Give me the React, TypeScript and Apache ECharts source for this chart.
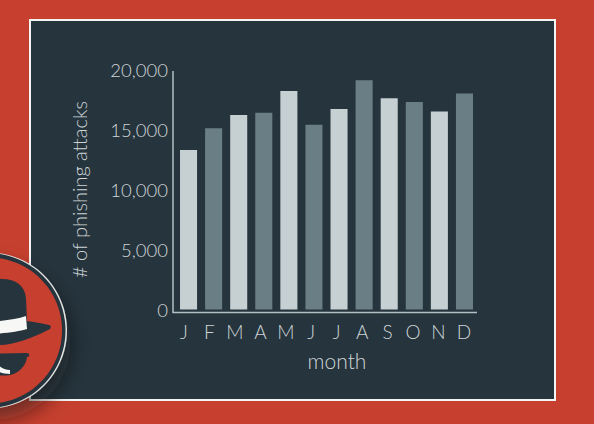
import React, { useEffect, useRef } from "react";
import * as echarts from "echarts";

const months = ["J", "F", "M", "A", "M", "J", "J", "A", "S", "O", "N", "D"];
const attacks = [13300, 15100, 16200, 16400, 18200, 15400, 16700, 19100, 17600, 17300, 16500, 18000];
const barColors = ["#c6d0d3", "#6a7f85"];
const FONT = "Lato";
const TEXT = "#ced5d7";
const DARK = "#26343d";
const RED = "#c7402f";

const reg = (name: string, d: string) =>
  echarts.graphic.registerShape(name, echarts.graphic.extendPath(d, {}) as any);

reg("hatCrown", "M-30 320 L-24 292 C-20 281 -8 278 2 279 C16 279 25 286 26 298 L27 321 C34 322 42 323 49 325 C52 326 51 329 48 330 C32 338 14 345 0 345 C-12 346 -24 342 -30 336 Z");
reg("hatBand", "M-30 322 C-10 322 12 321 26 316 L27 329 C14 333 -10 335 -30 334 Z");
reg("glasses", "M-30 354 L27 353 C30 353 30 357 27 357 C26 367 17 375 7 375.5 C-8 376 -24 372 -30 368 Z");
reg("smile", "M-2 364.5 C1 368 5 369.5 10 370 L10 374 C5 374 0 373 -2 371 Z");

export default function App() {
  const ref = useRef<HTMLDivElement>(null);
  useEffect(() => {
    const chart = echarts.init(ref.current!, undefined, { renderer: "svg" });
    chart.setOption({
      animation: false,
      backgroundColor: RED,
      grid: [
        { left: 176, right: 117, top: 69.5, bottom: 114.5 },
        { left: 171.3, right: 117.3, top: 69.5, bottom: 114.5 },
      ],
      xAxis: [
        {
          type: "category",
          gridIndex: 0,
          data: months,
          axisLine: { show: false },
          axisTick: { show: false },
          axisLabel: { show: false },
        },
        {
          type: "category",
          gridIndex: 1,
          data: months,
          name: "month",
          nameLocation: "middle",
          nameGap: 40,
          nameTextStyle: { color: TEXT, fontFamily: FONT, fontWeight: 300, fontSize: 21, padding: [0, 0, 0, 26] },
          axisLine: { show: false },
          axisTick: { show: false },
          axisLabel: { color: TEXT, fontFamily: FONT, fontWeight: 300, fontSize: 19, margin: 12, interval: 0 },
        },
      ],
      yAxis: [
        {
          type: "value",
          gridIndex: 0,
          min: 0,
          max: 20000,
          interval: 5000,
          name: "# of phishing attacks",
          nameLocation: "middle",
          nameGap: 87,
          nameTextStyle: { color: TEXT, fontFamily: FONT, fontWeight: 300, fontSize: 20 },
          splitLine: { show: false },
          axisLine: { show: false },
          axisTick: { show: false },
          axisLabel: {
            color: TEXT,
            fontFamily: FONT,
            fontWeight: 300,
            fontSize: 18.5,
            margin: 8,
            formatter: (v: number) => v.toLocaleString("en-US"),
          },
        },
        { type: "value", gridIndex: 1, min: 0, max: 20000, show: false },
      ],
      series: [
        {
          type: "bar",
          barCategoryGap: "32%",
          xAxisIndex: 0,
          yAxisIndex: 0,
          data: attacks.map((v, i) => ({ value: v, itemStyle: { color: barColors[i % 2] } })),
        },
      ],
      graphic: [
        { type: "rect", z: -1, shape: { x: 30, y: 20, width: 525, height: 380 }, style: { fill: DARK, stroke: "#f4f4f2", lineWidth: 2 } },
        { type: "polyline", z: 1, shape: { points: [[173, 71], [173, 312.5], [477, 312.5]] }, style: { fill: "none", stroke: "#b4bfc3", lineWidth: 1.5 } },
        { type: "circle", z: 5, shape: { cx: -11, cy: 330.5, r: 78 }, style: { fill: "#e4e6e4", shadowBlur: 20, shadowColor: "rgba(20,10,10,0.5)", shadowOffsetX: 4, shadowOffsetY: 12 } },
        { type: "circle", z: 6, shape: { cx: -12, cy: 330.5, r: 77.5 }, style: { fill: DARK } },
        { type: "circle", z: 7, shape: { cx: -11, cy: 330.5, r: 73 }, style: { fill: RED } },
        { type: "hatCrown", z: 8, style: { fill: DARK } },
        { type: "hatBand", z: 9, style: { fill: "#f7f7f5" } },
        { type: "glasses", z: 8, style: { fill: DARK } },
        { type: "smile", z: 9, style: { fill: "#f7f7f5" } },
      ],
    });
    return () => chart.dispose();
  }, []);
  return <div ref={ref} style={{ position: "fixed", left: 0, top: 0, width: 594, height: 424 }} />;
}
